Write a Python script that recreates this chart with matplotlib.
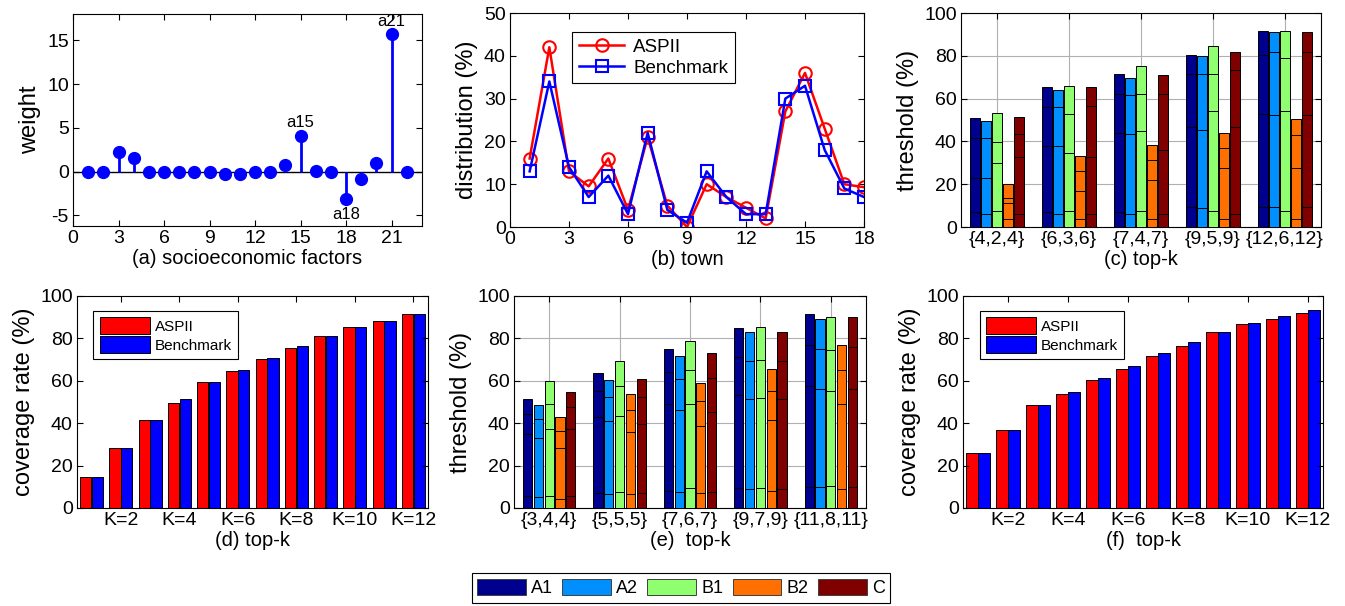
import matplotlib
matplotlib.use("Agg")
import matplotlib.pyplot as plt
import numpy as np
from matplotlib.patches import Patch

plt.rcParams['font.family'] = ['Liberation Sans', 'DejaVu Sans']

# ---------------- data ----------------
# (a) weights of socioeconomic factors
factor_idx = list(range(1, 23))
weights = [0, 0, 2.3, 1.6, 0, 0, 0, 0, 0, -0.3, -0.3, 0, 0, 0.8, 4.1, 0.1, 0,
           -3.1, -0.8, 0.95, 15.7, 0]
annot_labels = {15: "a15", 21: "a21", 18: "a18"}

# (b) distribution per town
towns = list(range(1, 19))
dist_aspii = [16, 42, 13, 9.5, 16, 4, 21, 5, 0, 10, 7, 4.5, 2, 27, 36, 23, 10, 9.3]
dist_bench = [13, 34, 14, 7, 12, 3, 22, 4, 1, 13, 7, 3, 3, 30, 33, 18, 9, 7]

# (c) threshold, levels per bar (top then inner dividers) per group
c_groups = ["{4,2,4}", "{6,3,6}", "{7,4,7}", "{9,5,9}", "{12,6,12}"]
c_A1 = [[50.8, 41.7, 23.1, 6.9], [65.3, 56.3, 37.8, 6.9], [71.4, 62.3, 44.0, 6.9],
        [80.3, 71.4, 46.9, 9.4], [91.7, 80.3, 52.8, 9.4]]
c_A2 = [[49.5, 41.7, 23.0, 6.3], [64.2, 56.3, 37.8, 6.3], [69.8, 61.9, 43.3, 6.3],
        [79.7, 71.4, 45.3, 9.0], [91.1, 81.7, 52.5, 9.4]]
c_B1 = [[53.4, 39.8, 29.8, 7.5], [65.8, 53.0, 34.8, 7.5], [75.3, 62.3, 45.0, 7.5],
        [84.8, 71.4, 54.0, 7.5], [91.7, 78.8, 54.0, 7.5]]
c_B2 = [[20.3, 13.6, 11.3, 3.9], [33.3, 26.4, 17.0, 3.9], [38.4, 31.4, 21.9, 3.9],
        [43.9, 37.0, 27.7, 3.9], [50.3, 43.1, 27.7, 3.9]]
c_C = [[51.3, 43.3, 32.8, 6.3], [65.3, 56.7, 32.8, 6.3], [70.8, 62.3, 35.9, 6.3],
       [81.7, 73.3, 46.9, 6.3], [91.1, 81.7, 52.5, 9.4]]

# (e) threshold
e_groups = ["{3,4,4}", "{5,5,5}", "{7,6,7}", "{9,7,9}", "{11,8,11}"]
e_A1 = [[51.3, 44.4, 34.8, 5.5], [63.8, 55.1, 42.8, 7.2], [75.0, 64.3, 49.0, 8.2],
        [84.7, 71.0, 53.5, 9.3], [91.7, 76.7, 57.5, 9.9]]
e_A2 = [[48.5, 42.0, 33.0, 5.2], [60.3, 52.4, 40.9, 6.6], [71.7, 60.9, 46.1, 7.6],
        [83.0, 69.4, 51.2, 8.8], [89.3, 75.1, 55.9, 9.9]]
e_B1 = [[59.8, 49.1, 37.2, 5.8], [69.4, 57.5, 43.5, 7.6], [78.6, 64.9, 49.1, 9.3],
        [85.2, 69.9, 52.0, 9.6], [90.2, 74.6, 55.3, 10.2]]
e_B2 = [[42.8, 36.4, 28.5, 4.3], [54.0, 46.1, 35.9, 6.6], [59.0, 50.7, 38.9, 7.2],
        [65.4, 55.3, 41.6, 8.2], [76.7, 64.9, 49.0, 9.0]]
e_C = [[54.5, 47.7, 37.5, 5.8], [60.9, 52.4, 39.8, 7.2], [72.9, 61.4, 45.5, 7.6],
       [83.0, 69.4, 51.2, 8.8], [90.2, 76.1, 56.2, 9.9]]

# (d) coverage rate
k_values = list(range(1, 13))
k_ticklabels = ["K=2", "K=4", "K=6", "K=8", "K=10", "K=12"]
d_aspii = [14.5, 28.5, 41.7, 49.6, 59.2, 64.4, 70.1, 75.7, 81.3, 85.2, 88.0, 91.7]
d_bench = [14.5, 28.5, 41.7, 51.2, 59.2, 65.0, 70.6, 76.2, 81.3, 85.2, 88.0, 91.7]

# (f) coverage rate
f_aspii = [25.8, 37.0, 48.5, 54.0, 60.3, 65.5, 71.7, 76.2, 83.1, 86.6, 89.3, 91.8]
f_bench = [25.8, 37.0, 48.5, 54.6, 61.1, 67.2, 72.9, 78.1, 83.1, 87.2, 90.4, 93.2]

series_names = ["A1", "A2", "B1", "B2", "C"]
series_colors = ["#00008F", "#008FFF", "#8FFF70", "#FF7000", "#800000"]

# ---------------- figure ----------------
W, H = 1345, 606
fig = plt.figure(figsize=(W / 100, H / 100), dpi=100)

TICK_FS = 14
YLAB_FS = 17
XLAB_FS = 14.5


def add_ax(l, t, r, b):
    return fig.add_axes([l / W, 1 - b / H, (r - l) / W, (b - t) / H])


def style(ax):
    ax.tick_params(direction='in', top=True, right=True, labelsize=TICK_FS,
                   length=4, width=0.8, pad=3)
    for s in ax.spines.values():
        s.set_linewidth(0.8)


# (a)
ax = add_ax(73, 14, 422, 226)
ax.axhline(0, color='black', lw=1.0, zorder=1)
ax.vlines(factor_idx, 0, weights, colors='#0000FF', lw=2, zorder=2)
ax.plot(factor_idx, weights, 'o', color='#0000FF', ms=8.5, zorder=3)
for i, lab in annot_labels.items():
    v = weights[i - 1]
    if v >= 0:
        ax.annotate(lab, (i, v), xytext=(0, 4), textcoords='offset points',
                    ha='center', va='bottom', fontsize=12)
    else:
        ax.annotate(lab, (i, v), xytext=(0, -6), textcoords='offset points',
                    ha='center', va='top', fontsize=12)
ax.set_xlim(0, 23)
ax.set_ylim(-6.2, 18)
ax.set_xticks(range(0, 22, 3))
ax.set_yticks([-5, 0, 5, 10, 15])
ax.set_yticklabels(["-5", "0", "5", "10", "15"])
ax.set_ylabel("weight", fontsize=YLAB_FS)
ax.set_xlabel("(a) socioeconomic factors", fontsize=XLAB_FS, labelpad=1)
style(ax)

# (b)
ax = add_ax(510, 13, 864, 227)
ax.plot(towns, dist_aspii, '-o', color='#FF0000', lw=1.8, ms=9, mfc='none',
        mew=1.5, label='ASPII')
ax.plot(towns, dist_bench, '-s', color='#0000FF', lw=1.8, ms=8, mfc='none',
        mew=1.5, label='Benchmark')
ax.set_xlim(0, 18)
ax.set_ylim(0, 50)
ax.set_xticks(range(0, 19, 3))
ax.set_yticks(range(0, 51, 10))
ax.set_ylabel("distribution (%)", fontsize=YLAB_FS)
ax.set_xlabel("(b) town", fontsize=XLAB_FS, labelpad=1)
leg = ax.legend(loc='upper left', bbox_to_anchor=(0.15, 0.955), fontsize=13.5,
                handlelength=2.4, fancybox=False, edgecolor='black',
                framealpha=1, borderpad=0.35, labelspacing=0.2,
                handletextpad=0.5)
leg.get_frame().set_linewidth(0.8)
style(ax)


def threshold_panel(ax, groups, series):
    n = len(series)
    step = 0.153
    width = 0.13
    x = np.arange(1, len(groups) + 1)
    for si, (vals, col) in enumerate(zip(series, series_colors)):
        off = (si - (n - 1) / 2) * step
        for gi, levels in enumerate(vals):
            for li, lv in enumerate(sorted(levels, reverse=True)):
                ax.bar(x[gi] + off, lv, width=width, color=col,
                       edgecolor='black', lw=0.7, zorder=2 + li)
    ax.set_xlim(0.5, len(groups) + 0.5)
    ax.set_ylim(0, 100)
    ax.set_xticks(x)
    ax.set_xticklabels(groups)
    ax.set_yticks(range(0, 101, 20))
    ax.set_axisbelow(True)
    ax.grid(True, color='#B0B0B0', lw=0.8)
    ax.set_ylabel("threshold (%)", fontsize=YLAB_FS)
    style(ax)


# (c)
ax = add_ax(961, 13, 1321, 227)
threshold_panel(ax, c_groups, [c_A1, c_A2, c_B1, c_B2, c_C])
ax.set_xlabel("(c) top-k", fontsize=XLAB_FS, labelpad=1)

# (e)
ax = add_ax(514, 296, 866, 508)
threshold_panel(ax, e_groups, [e_A1, e_A2, e_B1, e_B2, e_C])
ax.set_xlabel("(e)  top-k", fontsize=XLAB_FS, labelpad=1)


def coverage_panel(ax, a, b, label):
    x = np.array(k_values)
    ax.bar(x - 0.2, a, width=0.39, color='#FF0000', edgecolor='black', lw=0.7,
           label='ASPII')
    ax.bar(x + 0.2, b, width=0.39, color='#0000FF', edgecolor='black', lw=0.7,
           label='Benchmark')
    ax.set_xlim(0.5, 12.5)
    ax.set_ylim(0, 100)
    ax.set_xticks([2, 4, 6, 8, 10, 12])
    ax.set_xticklabels(k_ticklabels)
    ax.set_yticks(range(0, 101, 20))
    ax.set_ylabel("coverage rate (%)", fontsize=YLAB_FS)
    ax.set_xlabel(label, fontsize=XLAB_FS, labelpad=1)
    leg = ax.legend(loc='upper left', bbox_to_anchor=(0.025, 0.965), fontsize=11,
                    handlelength=3.3, handleheight=1.3, fancybox=False,
                    edgecolor='black', framealpha=1, borderpad=0.4,
                    labelspacing=0.15, handletextpad=0.3)
    leg.get_frame().set_linewidth(0.8)
    style(ax)


# (d)
ax = add_ax(77, 296, 428, 508)
coverage_panel(ax, d_aspii, d_bench, "(d) top-k")

# (f)
ax = add_ax(963, 296, 1323, 508)
coverage_panel(ax, f_aspii, f_bench, "(f)  top-k")

# shared legend
handles = [Patch(facecolor=c, edgecolor='#404040', lw=0.7) for c in series_colors]
fleg = fig.legend(handles, series_names, loc='center', ncol=5,
                  bbox_to_anchor=(681 / W, 1 - 588 / H), fontsize=13,
                  handlelength=2.7, handleheight=1.0, fancybox=False,
                  edgecolor='black', framealpha=1, columnspacing=0.5,
                  handletextpad=0.3, borderpad=0.3)
fleg.get_frame().set_linewidth(0.8)

fig.savefig("out.png", dpi=100)
